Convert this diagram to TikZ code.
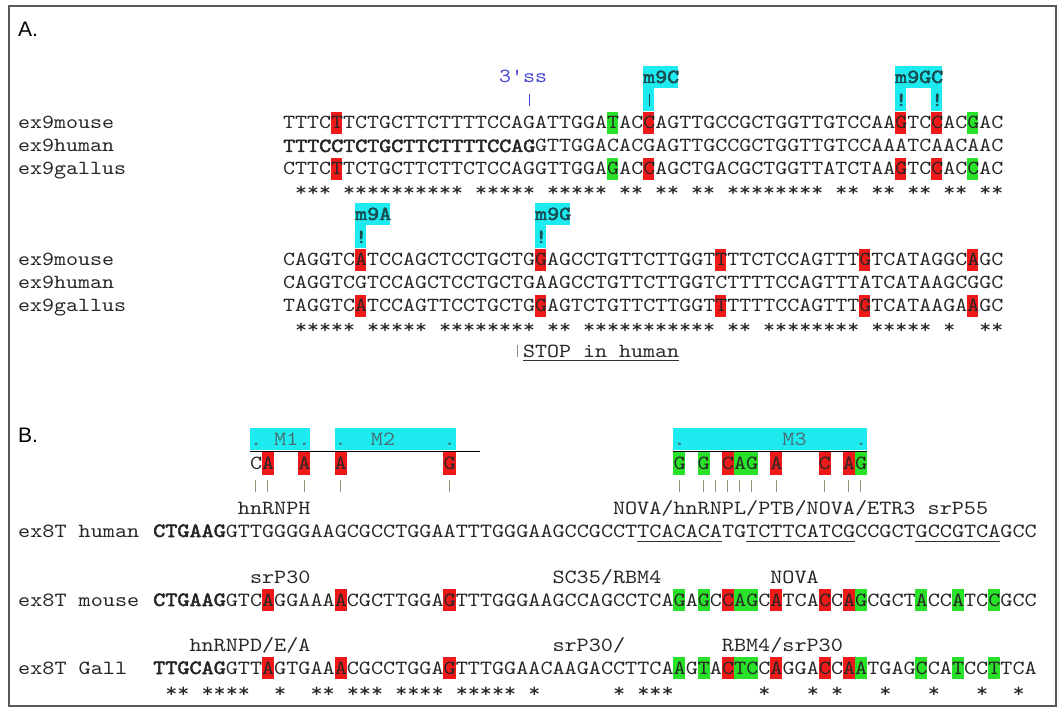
\documentclass[tikz,border=0pt]{standalone}
\usepackage{fontspec}
\newfontfamily\seqfont{lmmono10-regular}[Extension=.otf,FakeStretch=1.143,AutoFakeBold=2.5]
\newfontfamily\panfont{Liberation Sans}
\definecolor{hlred}{RGB}{240,25,25}
\definecolor{hlgreen}{RGB}{40,225,40}
\definecolor{hlcyan}{RGB}{30,235,240}
\definecolor{ssblue}{RGB}{70,70,215}
\definecolor{tagteal}{RGB}{25,75,80}
\definecolor{tickgray}{RGB}{150,140,120}
\newcommand\gp{\hphantom{*}}
\tikzset{
  seqA/.style={anchor=base west,inner sep=0pt,text=black!85,font=\seqfont\fontsize{20}{23}\selectfont},
  seqB/.style={seqA,font=\seqfont\fontsize{20.17}{23}\selectfont},
  tag/.style={seqA,text=tagteal,font=\seqfont\fontsize{20}{23}\selectfont\bfseries},
  mtext/.style={seqB,text=tagteal!80},
  panel/.style={anchor=base west,inner sep=0pt,font=\panfont\fontsize{21}{24}\selectfont}
}
\begin{document}
\begin{tikzpicture}[x=1pt,y=-1pt]
  \useasboundingbox (0,0) rectangle (1062,708);
  \draw[black!65,line width=1.5] (9,6) rectangle (1056,706);
  \node[panel] (labA) at (18,37) {A.};
  \node[panel] (labB) at (18,442) {B.};

  % panel A: tags and highlights
  \foreach \c/\y/\n in {30/66/3,51/66/4,6/203/3,21/203/3}
    \fill[hlcyan] ({283+12*\c},\y) rectangle ++({12*\n-1},22);
  \foreach \c/\y in {30/88,51/88,54/88,6/225,21/225}
    \fill[hlcyan] ({283+12*\c},\y) rectangle ++(11,23);
  \foreach \c/\col in {4/hlred,27/hlgreen,30/hlred,51/hlred,54/hlred,57/hlgreen}
    \foreach \y in {123,169}
      \fill[\col] ({283+12*\c},{\y-11}) rectangle ++(11,22);
  \foreach \c in {6,21,36,48,57}
    \foreach \y in {260,306}
      \fill[hlred] ({283+12*\c},{\y-11}) rectangle ++(11,22);

  \node[seqA,text=ssblue] (ss) at (499,83) {3'ss};
  \draw[ssblue,line width=1] (529,94) -- (529,106);
  \node[tag] (m9C) at (643,83) {m9C};
  \draw[tagteal,line width=1] (649,94) -- (649,106);
  \node[tag] (m9GC) at (895,83) {m9GC};
  \node[tag] (x51) at (895,106) {!};
  \node[tag] (x54) at (931,106) {!};
  \node[tag] (m9A) at (355,220) {m9A};
  \node[tag] (x6) at (355,243) {!};
  \node[tag] (m9G) at (535,220) {m9G};
  \node[tag] (x21) at (535,243) {!};

  \foreach \y/\nm/\s [count=\i] in {129/ex9mouse/TTTCTTCTGCTTCTTTTCCAGATTGGATACCAGTTGCCGCTGGTTGTCCAAGTCCACGAC,
    152/ex9human/{\textbf{TTTCCTCTGCTTCTTTTCCAG}GTTGGACACGAGTTGCCGCTGGTTGTCCAAATCAACAAC},
    175/ex9gallus/CTTCTTCTGCTTCTTCTCCAGGTTGGAGACCAGCTGACGCTGGTTATCTAAGTCCACCAC,
    266/ex9mouse/CAGGTCATCCAGCTCCTGCTGGAGCCTGTTCTTGGTTTTCTCCAGTTTGTCATAGGCAGC,
    289/ex9human/CAGGTCGTCCAGCTCCTGCTGAAGCCTGTTCTTGGTCTTTTCCAGTTTATCATAAGCGGC,
    312/ex9gallus/TAGGTCATCCAGTTCCTGCTGGAGTCTGTTCTTGGTTTTTTCCAGTTTGTCATAAGAAGC} {
    \node[seqA] (nA\i) at (18,\y) {\nm};
    \node[seqA] (sA\i) at (283,\y) {\s};
  }
  \node[seqA] (stA1) at (283,197) {\gp***\gp**********\gp*****\gp*****\gp**\gp**\gp**\gp********\gp**\gp**\gp**\gp**\gp**};
  \node[seqA] (stA2) at (283,334) {\gp*****\gp*****\gp********\gp**\gp***********\gp**\gp********\gp*****\gp*\gp\gp**};
  \draw[black!45,line width=1] (517,345) -- (517,357);
  \node[seqA] (stop) at (523,357) {STOP\gp in\gp human};
  \draw[black!80] ([yshift=-3pt]stop.base west) -- ([yshift=-3pt]stop.base east);

  % panel B: motifs
  \foreach \c/\n in {8/5,15/10,43/16}
    \fill[hlcyan] ({153+12.1*\c},428) rectangle ++({12.1*\n},22);
  \node[mtext] (M1) at ({153+12.1*8},445) {.\gp M1.};
  \node[mtext] (M2) at ({153+12.1*15},445) {.\gp\gp M2\gp\gp\gp\gp.};
  \node[mtext] (M3) at ({153+12.1*43},445) {.\gp\gp\gp\gp\gp\gp\gp\gp M3\gp\gp\gp\gp.};
  \draw[line width=1] ({153+12.1*8},451) -- ({153+12.1*27},451);
  \draw[line width=1] ({153+12.1*43},451) -- ({153+12.1*59},451);
  \foreach \c/\col in {9/hlred,12/hlred,15/hlred,24/hlred,43/hlgreen,45/hlgreen,47/hlred,48/hlgreen,49/hlgreen,51/hlred,55/hlred,57/hlred,58/hlgreen}
    \fill[\col] ({153+12.1*\c},452) rectangle ++(12.1,23);
  \foreach \c/\l in {8/C,9/A,12/A,15/A,24/G,43/G,45/G,47/C,48/A,49/G,51/A,55/C,57/A,58/G}
    \node[seqB] (ml\c) at ({153+12.1*\c},469) {\l};
  \foreach \c in {8,9,12,15,24,43,45,46,47,48,49,51,55,57,58}
    \draw[tickgray,line width=1] ({153+12.1*\c+6},480) -- ++(0,12);

  % panel B: rows
  \foreach \c in {9,15,24,47,51,55,57}
    \foreach \y in {600,668}
      \fill[hlred] ({153+12.1*\c},{\y-11}) rectangle ++(12.1,22);
  \foreach \c in {43,45,48,49,58,63,66,69}
    \foreach \y in {600,668}
      \fill[hlgreen] ({153+12.1*\c},{\y-11}) rectangle ++(12.1,22);
  \foreach \c/\y/\t [count=\i] in {7/514/hnRNPH,38/514/{NOVA/hnRNPL/PTB/NOVA/ETR3\gp srP55},
    8/583/srP30,33/583/{SC35/RBM4},51/583/NOVA,
    3/651/{hnRNPD/E/A},33/651/{srP30/},47/651/{RBM4/srP30}}
    \node[seqB] (an\i) at ({153+12.1*\c},\y) {\t};
  \foreach \y/\nm/\s [count=\i] in {537/{ex8T\gp human}/{\textbf{CTGAAG}GTTGGGGAAGCGCCTGGAATTTGGGAAGCCGCCTTCACACATGTCTTCATCGCCGCTGCCGTCAGCC},
    606/{ex8T\gp mouse}/{\textbf{CTGAAG}GTCAGGAAAACGCTTGGAGTTTGGGAAGCCAGCCTCAGAGCCAGCATCACCAGCGCTACCATCCGCC},
    674/{ex8T\gp Gall}/{\textbf{TTGCAG}GTTAGTGAAACGCCTGGAGTTTGGAACAAGACCTTCAAGTACTCCAGGACCAATGAGCCATCCTTCA}} {
    \node[seqB] (nB\i) at (18,\y) {\nm};
    \node[seqB] (sB\i) at (153,\y) {\s};
  }
  \foreach \a/\b in {40/47,49/58,63/70}
    \draw[black!80] ({153+12.1*\a},541) -- ({153+12.1*\b},541);
  \node[seqB] (stB) at (153,697) {\gp**\gp****\gp\gp*\gp\gp**\gp***\gp****\gp*****\gp*\gp\gp\gp\gp\gp\gp*\gp***\gp\gp\gp\gp\gp\gp\gp*\gp\gp\gp*\gp*\gp\gp\gp*\gp\gp\gp*\gp\gp\gp*\gp\gp*};
\end{tikzpicture}
\end{document}
